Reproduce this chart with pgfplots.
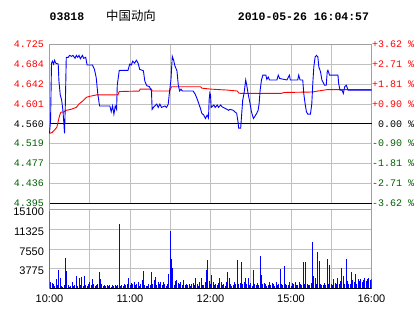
\documentclass[border=0pt]{standalone}
\usepackage{pgfplots}
\pgfplotsset{compat=1.18}
\usepackage{fontspec}
\setmainfont{Liberation Sans}
\newfontfamily\monof{Liberation Mono}
\newfontfamily\cjk{Noto Sans CJK SC}
\definecolor{dkgreen}{RGB}{0,96,0}
\definecolor{gridc}{RGB}{192,192,192}
\definecolor{bordc}{RGB}{160,160,160}
\newcommand{\lab}{\monof\fontsize{10}{12}\selectfont}
\begin{document}
\begin{tikzpicture}
\useasboundingbox (0pt,0pt) rectangle (414pt,314pt);
\node[anchor=west,inner sep=0,font=\monof\bfseries\fontsize{11.5}{12}\selectfont] at (49.5pt,297.5pt) {03818};
\node[anchor=west,inner sep=0,font=\cjk\fontsize{12.4}{13}\selectfont] at (106pt,298pt) {中国动向};
\node[anchor=west,inner sep=0,font=\monof\bfseries\fontsize{11.5}{12}\selectfont] at (237.7pt,297.5pt) {2010-05-26 16:04:57};
% connecting borders between panels
\draw[bordc,line width=0.8pt] (49.5pt,104.5pt) -- (49.5pt,110.7pt);
\draw[bordc,line width=0.8pt] (371.5pt,104.5pt) -- (371.5pt,110.7pt);
\begin{axis}[at={(49.5pt,110.7pt)}, anchor=south west, scale only axis,
  width=322pt, height=159pt, xmin=0, xmax=240, ymin=4.395, ymax=4.725,
  xtick={30,60,...,210}, xticklabels={,,,,,,,},
  ytick={4.395,4.43625,4.4775,4.51875,4.56,4.60125,4.6425,4.68375,4.725},
  yticklabels={\textcolor{dkgreen}{4.395},\textcolor{dkgreen}{4.436},\textcolor{dkgreen}{4.477},\textcolor{dkgreen}{4.519},\textcolor{black}{4.560},\textcolor{red}{4.601},\textcolor{red}{4.642},\textcolor{red}{4.684},\textcolor{red}{4.725}},
  yticklabel style={font=\lab, xshift=-2pt},
  grid=major, major grid style={gridc, line width=0.8pt},
  axis line style={bordc, line width=0.8pt}, tick style={draw=none},
  clip=false]
\addplot[black, line width=0.8pt] coordinates {(0,4.56) (240,4.56)};
\addplot[red, line width=0.9pt] table {
0 4.540
2 4.542
4 4.548
5.5 4.553
6.5 4.565
7.5 4.577
8.5 4.584
11 4.585
12.5 4.588
16 4.590
20 4.594
22 4.601
25 4.608
27.5 4.615
30 4.617
35 4.620
51 4.620
52 4.627
67 4.628
67.5 4.632
76 4.632
76.5 4.628
89.5 4.628
91 4.637
112.5 4.637
113.5 4.634
120 4.632
132.5 4.630
140 4.628
141 4.624
142.5 4.623
172.5 4.623
175 4.625
196 4.626
200 4.628
207 4.631
240 4.631
};
\addplot[blue, line width=0.9pt] table {
0 4.540
0.8 4.568
1.5 4.686
2.2 4.690
3 4.684
3.8 4.692
4.6 4.686
6.5 4.684
7 4.650
8 4.620
9 4.610
10 4.588
10.6 4.565
11.2 4.540
11.8 4.600
12.5 4.698
14 4.698
15 4.702
16.5 4.700
17.5 4.702
19 4.696
20 4.702
21 4.698
22 4.702
23 4.695
24.5 4.702
25.5 4.696
27 4.698
28 4.682
32 4.682
33.5 4.673
34.8 4.656
36 4.622
37.3 4.597
45 4.597
46 4.585
47 4.597
48 4.580
49 4.597
50 4.590
50.5 4.640
52 4.671
58.5 4.671
59.8 4.684
61 4.682
62 4.690
63.5 4.686
64.75 4.692
66 4.686
67.25 4.673
70 4.670
71 4.649
72.5 4.639
74.5 4.637
76 4.628
76.5 4.590
78 4.596
80 4.601
81 4.594
82.25 4.601
83.5 4.594
86 4.597
87.25 4.594
88.5 4.601
89.5 4.628
90.5 4.650
91.5 4.700
92.5 4.692
93.5 4.680
95 4.670
96 4.640
97 4.628
98 4.632
99 4.628
107 4.628
108.5 4.622
110 4.612
111.25 4.602
112.5 4.592
113.5 4.582
115 4.578
116.25 4.571
117.5 4.578
118.5 4.572
119 4.610
119.5 4.624
120 4.620
120.5 4.594
122.5 4.599
123.5 4.594
125 4.599
126 4.594
127.5 4.599
128.75 4.595
131 4.592
133.5 4.588
134.5 4.590
137 4.588
138 4.585
139.5 4.582
140.5 4.564
141 4.551
142.5 4.551
143 4.571
144 4.609
145 4.623
146.25 4.651
147 4.640
148 4.623
149 4.609
149.5 4.602
150.5 4.585
152 4.571
153 4.575
154.5 4.582
155.5 4.588
156.25 4.602
157 4.630
158 4.651
159 4.661
161.25 4.661
162 4.652
163 4.657
164 4.651
169.5 4.651
170.5 4.661
171.5 4.654
177 4.651
178.75 4.661
179.5 4.651
185 4.651
185.75 4.661
186.75 4.651
188.75 4.651
189.5 4.623
190.5 4.602
191.5 4.585
192.5 4.580
194.5 4.580
195.5 4.602
196.25 4.644
197 4.678
198 4.699
199 4.702
200 4.699
200.75 4.678
202 4.668
203 4.651
205 4.640
206.25 4.640
207 4.668
207.5 4.671
208.75 4.661
215 4.661
215.5 4.644
216.5 4.630
218 4.630
219 4.623
220 4.637
221.25 4.640
222.5 4.630
240 4.630
};
\draw[black, line width=0.8pt] (rel axis cs:0,0) -- (rel axis cs:1,0);
\node[anchor=west,inner sep=0,font=\lab,text=red] at (axis cs:240,4.725) [xshift=0.5pt] {+3.62 \%};
\node[anchor=west,inner sep=0,font=\lab,text=red] at (axis cs:240,4.68375) [xshift=0.5pt] {+2.71 \%};
\node[anchor=west,inner sep=0,font=\lab,text=red] at (axis cs:240,4.6425) [xshift=0.5pt] {+1.81 \%};
\node[anchor=west,inner sep=0,font=\lab,text=red] at (axis cs:240,4.60125) [xshift=0.5pt] {+0.90 \%};
\node[anchor=west,inner sep=0,font=\lab,text=black] at (axis cs:240,4.56) [xshift=0.5pt] {\phantom{+}0.00 \%};
\node[anchor=west,inner sep=0,font=\lab,text=dkgreen] at (axis cs:240,4.51875) [xshift=0.5pt] {-0.90 \%};
\node[anchor=west,inner sep=0,font=\lab,text=dkgreen] at (axis cs:240,4.4775) [xshift=0.5pt] {-1.81 \%};
\node[anchor=west,inner sep=0,font=\lab,text=dkgreen] at (axis cs:240,4.43625) [xshift=0.5pt] {-2.71 \%};
\node[anchor=west,inner sep=0,font=\lab,text=dkgreen] at (axis cs:240,4.395) [xshift=0.5pt] {-3.62 \%};
\end{axis}
\begin{axis}[at={(49.5pt,25.7pt)}, anchor=south west, scale only axis,
  width=322pt, height=78.8pt, xmin=0, xmax=240, ymin=0, ymax=15100,
  scaled y ticks=false,
  xtick={0,30,...,240}, xticklabels={10:00,,11:00,,12:00,,15:00,,16:00},
  ytick={3775,7550,11325,15100}, yticklabels={3775,7550,11325,15100},
  yticklabel style={font=\fontsize{11}{13}\selectfont, xshift=-2pt, yshift=-2.5pt},
  xticklabel style={font=\fontsize{11}{13}\selectfont, yshift=-2.5pt},
  grid=major, major grid style={gridc, line width=0.8pt},
  axis line style={bordc, line width=0.8pt}, tick style={draw=none}]
\addplot[ycomb, blue, line width=1pt, mark=none] table {
0 14900
1 1300
2 1100
3 900
4 400
5 1700
6 600
7 3500
8 2000
9 500
10 300
11 700
12 5800
13 3400
14 600
15 300
16 500
17 1300
18 400
19 600
20 2400
21 500
22 2000
23 600
24 2100
25 400
26 2300
27 700
28 500
29 900
30 1300
31 600
32 1700
33 800
34 500
35 600
36 900
37 3200
38 1700
39 900
40 500
41 600
42 400
43 700
44 500
45 600
46 300
47 700
48 500
49 600
50 400
51 700
52 12400
53 500
54 600
55 400
56 800
57 600
58 900
59 1900
60 700
61 1100
62 800
63 1300
64 600
65 900
66 1200
67 500
68 800
69 1600
70 3300
71 700
72 500
73 400
74 900
75 600
76 3200
77 900
78 1500
79 2200
80 700
81 1200
82 800
83 1200
84 600
85 1300
86 900
87 500
88 800
89 2800
90 10900
91 5600
92 3900
93 600
94 1400
95 1500
96 1100
97 800
98 1200
99 600
100 1500
101 700
102 900
103 600
104 800
105 500
106 900
107 1100
108 700
109 1900
110 800
111 500
112 1300
113 1900
114 700
115 600
116 1200
117 3500
118 5500
119 1400
120 900
121 2600
122 1300
123 700
124 900
125 600
126 1000
127 1900
128 1300
129 700
130 900
131 500
132 1300
133 3200
134 2000
135 900
136 500
137 700
138 1300
139 900
140 5500
141 900
142 1100
143 5000
144 800
145 1200
146 1900
147 900
148 1900
149 700
150 1100
151 500
152 3500
153 900
154 600
155 1100
156 700
157 6200
158 2600
159 800
160 1100
161 900
162 500
163 700
164 1300
165 600
166 1100
167 900
168 500
169 1200
170 700
171 900
172 3700
173 800
174 600
175 4200
176 900
177 700
178 600
179 1200
180 500
181 1000
182 800
183 1200
184 700
185 600
186 1300
187 900
188 700
189 5100
190 800
191 5100
192 900
193 600
194 700
195 1100
196 8800
197 2400
198 2000
199 900
200 6900
201 5300
202 800
203 600
204 700
205 1100
206 600
207 5600
208 900
209 4500
210 800
211 700
212 1700
213 1000
214 800
215 2000
216 900
217 1400
218 3900
219 2400
220 900
221 5600
222 1400
223 900
224 800
225 3200
226 1500
227 1200
228 2800
229 900
230 1700
231 1400
232 1800
233 1300
234 1600
235 1900
236 1400
237 1700
238 1900
239 1500
240 1800
};
\draw[black, line width=0.8pt] (rel axis cs:0,0) -- (rel axis cs:1,0);
\end{axis}
\end{tikzpicture}
\end{document}
